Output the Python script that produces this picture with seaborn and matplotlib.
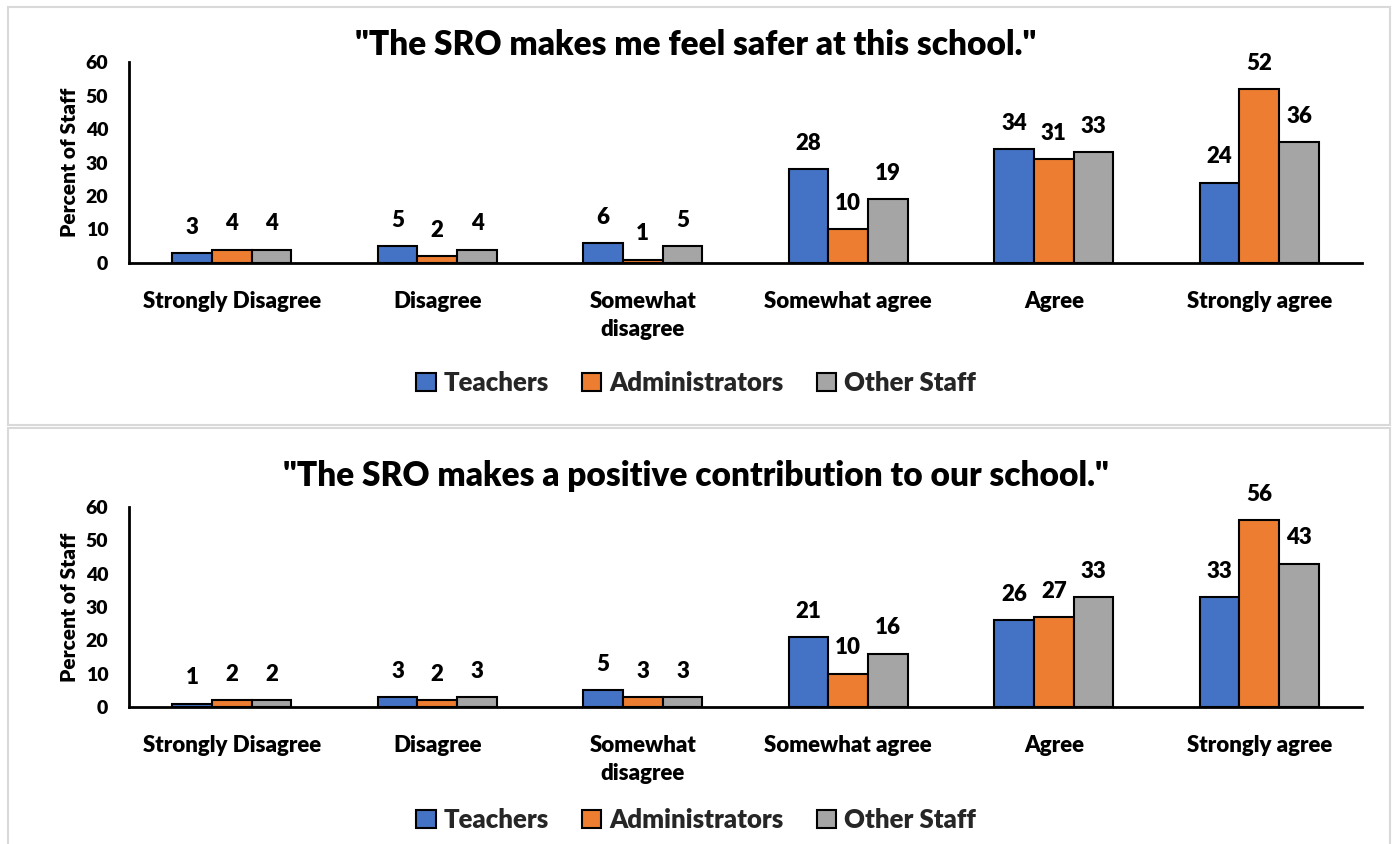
import pandas as pd
import matplotlib.pyplot as plt
import seaborn as sns
from matplotlib.patches import Rectangle

# categorias e valores
respostas = ["Strongly Disagree", "Disagree", "Somewhat\ndisagree",
             "Somewhat agree", "Agree", "Strongly agree"]
grupos = ["Teachers", "Administrators", "Other Staff"]

safer_teachers = [3, 5, 6, 28, 34, 24]
safer_admins = [4, 2, 1, 10, 31, 52]
safer_other = [4, 4, 5, 19, 33, 36]

contrib_teachers = [1, 3, 5, 21, 26, 33]
contrib_admins = [2, 2, 3, 10, 27, 56]
contrib_other = [2, 3, 3, 16, 33, 43]

titulos = ['"The SRO makes me feel safer at this school."',
           '"The SRO makes a positive contribution to our school."']

cores = ["#4472C4", "#ED7D31", "#A5A5A5"]
peso = "heavy"


def monta_df(t, a, o):
    linhas = []
    for vals, g in zip([t, a, o], grupos):
        for r, v in zip(respostas, vals):
            linhas.append({"Resposta": r, "Grupo": g, "Percent": v})
    return pd.DataFrame(linhas)


dfs = [monta_df(safer_teachers, safer_admins, safer_other),
       monta_df(contrib_teachers, contrib_admins, contrib_other)]

sns.set_style("white")
plt.rcParams['font.family'] = ['Lato', 'DejaVu Sans']
plt.rcParams['font.weight'] = peso

fig = plt.figure(figsize=(13.92, 8.44), dpi=100)

# molduras dos paineis
fig.patches.append(Rectangle((8 / 1392, 1 - 425 / 844), 1382 / 1392, 418 / 844,
                             transform=fig.transFigure, fill=False,
                             edgecolor="#D9D9D9", linewidth=1.5, zorder=0))
fig.patches.append(Rectangle((8 / 1392, -0.01), 1382 / 1392, 1 - 428 / 844 + 0.01,
                             transform=fig.transFigure, fill=False,
                             edgecolor="#D9D9D9", linewidth=1.5, zorder=0))

posicoes = [[0.0927, 0.6884, 0.8858, 0.2381],
            [0.0927, 0.1623, 0.8858, 0.2370]]
titulo_y = [1 - 45 / 844, 1 - 476 / 844]
legenda_y = [1 - 383 / 844, 1 - 820 / 844]

for df, pos, tit, ty, ly in zip(dfs, posicoes, titulos, titulo_y, legenda_y):
    ax = fig.add_axes(pos)
    sns.barplot(data=df, x="Resposta", y="Percent", hue="Grupo",
                palette=cores, saturation=1, edgecolor="black", linewidth=1.5,
                width=0.58, ax=ax)
    for c in ax.containers:
        ax.bar_label(c, padding=11, fontsize=16, fontweight=peso, color="black")
    ax.set_ylim(0, 60)
    ax.set_yticks(range(0, 61, 10))
    ax.set_xlim(-0.5, 5.5)
    ax.set_xlabel("")
    ax.set_ylabel("Percent of Staff", fontsize=15, fontweight=peso, labelpad=5,
                  color="black")
    ax.tick_params(axis="y", length=0, labelsize=14, labelcolor="black", pad=15)
    ax.tick_params(axis="x", length=0, labelsize=16, labelcolor="black", pad=20)
    for lbl in ax.get_xticklabels() + ax.get_yticklabels():
        lbl.set_fontweight(peso)
        lbl.set_linespacing(1.45)
    sns.despine(ax=ax)
    ax.spines["left"].set_linewidth(2)
    ax.spines["bottom"].set_linewidth(2)
    ax.spines["left"].set_color("black")
    ax.spines["bottom"].set_color("black")
    handles, labels = ax.get_legend_handles_labels()
    ax.get_legend().remove()
    fig.legend(handles, labels, loc="center", bbox_to_anchor=(0.5, ly), ncol=3,
               frameon=False, handlelength=0.75, handleheight=0.75,
               handletextpad=0.3, columnspacing=1.3,
               prop={"weight": peso, "size": 18.5})
    fig.text(0.5, ty, tit, ha="center", va="center", fontsize=24,
             fontweight=peso, color="black")

fig.savefig("out.png", dpi=100)
